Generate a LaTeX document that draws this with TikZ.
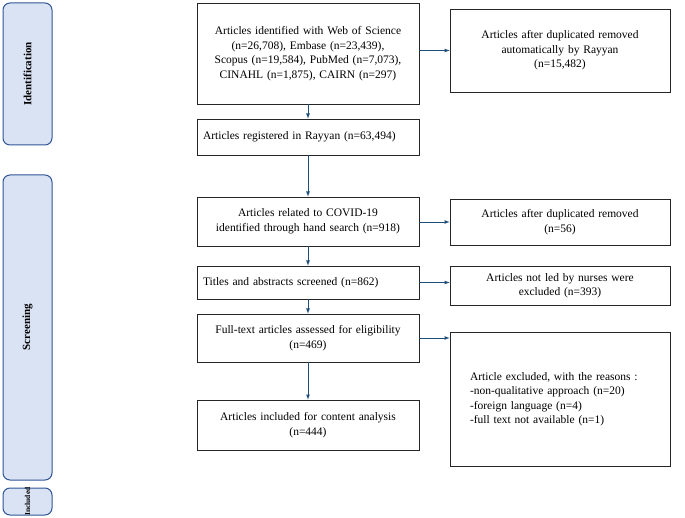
\documentclass[tikz,border=0pt]{standalone}
\usepackage{fontspec}
\setmainfont{Liberation Serif}
\definecolor{arrc}{HTML}{1F4E79}
\definecolor{phfill}{HTML}{DAE3F3}
\definecolor{phdraw}{HTML}{2F5597}
\hyphenpenalty=10000
\exhyphenpenalty=10000
\begin{document}
\begin{tikzpicture}[x=1pt,y=-1pt,
  box/.style={draw=black!85,line width=0.6pt,fill=white,align=center,font=\fontsize{11.5}{14.5}\selectfont,inner sep=2pt},
  phase/.style={draw=phdraw,line width=1pt,fill=phfill,rounded corners=7pt},
  arr/.style={draw=arrc,line width=0.8pt,-latex}]
\useasboundingbox (0,0) rectangle (685,518);
% phases
\draw[phase] (3,3) rectangle (52,145);
\draw[phase] (3,175) rectangle (52,480);
\draw[phase] (3,488) rectangle (52,515);
\node[rotate=90,font=\bfseries\fontsize{11}{12}\selectfont] (pid) at (27.5,74) {Identification};
\node[rotate=90,font=\bfseries\fontsize{11}{12}\selectfont] (psc) at (27.5,327) {Screening};
\node[rotate=90,font=\bfseries\fontsize{7.5}{9}\selectfont] (pin) at (27.5,501.5) {Included};
% main
\node[box,minimum width=222pt,minimum height=101pt,text width=214pt] (b1) at (308,53.5) {Articles identified with Web of Science (n=26,708), Embase (n=23,439), Scopus (n=19,584), PubMed (n=7,073), CINAHL (n=1,875), CAIRN (n=297)};
\node[box,minimum width=222pt,minimum height=36pt,text width=210pt,align=left] (b2) at (308,137) {Articles registered in Rayyan (n=63,494)};
\node[box,minimum width=222pt,minimum height=49pt,text width=214pt] (b3) at (308,221.5) {Articles related to COVID-19 identified through hand search (n=918)};
\node[box,minimum width=222pt,minimum height=33pt,text width=210pt,align=left] (b4) at (308,282.5) {Titles and abstracts screened (n=862)};
\node[box,minimum width=222pt,minimum height=48pt,text width=214pt] (b5) at (308,338) {Full-text articles assessed for eligibility\\(n=469)};
\node[box,minimum width=222pt,minimum height=50pt,text width=214pt] (b6) at (308,425) {Articles included for content analysis\\(n=444)};
% right
\node[box,minimum width=220pt,minimum height=83pt,text width=210pt] (r1) at (560,50.5) {Articles after duplicated removed automatically by Rayyan\\(n=15,482)};
\node[box,minimum width=220pt,minimum height=46pt,text width=210pt] (r2) at (560,222) {Articles after duplicated removed\\(n=56)};
\node[box,minimum width=220pt,minimum height=39pt,text width=210pt] (r3) at (560,285.5) {Articles not led by nurses were\\excluded (n=393)};
\node[box,minimum width=220pt,minimum height=134pt,text width=180pt,align=left] (r4) at (560,399) {Article excluded, with the reasons :\\-non-qualitative approach (n=20)\\-foreign language (n=4)\\-full text not available (n=1)};
% arrows
\draw[arr] (b1) -- (b2);
\draw[arr] (b2) -- (b3);
\draw[arr] (b3) -- (b4);
\draw[arr] (b4) -- (b5);
\draw[arr] (b5) -- (b6);
\draw[arr] (b1.east |- r1) -- (r1.west);
\draw[arr] (b3.east |- r2) -- (r2.west);
\draw[arr] (b4.east) -- (b4.east -| r3.west);
\draw[arr] (b5.east) -- (b5.east -| r4.west);
\end{tikzpicture}
\end{document}
